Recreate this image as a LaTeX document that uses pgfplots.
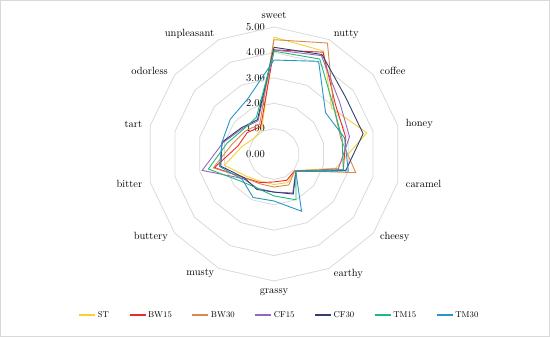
\documentclass[border=0pt]{standalone}
\usepackage{pgfplots}
\pgfplotsset{compat=1.18}
\usepackage{pgfplotstable}
\usepgfplotslibrary{polar}
\definecolor{cST}{RGB}{248,208,52}
\definecolor{cBWa}{RGB}{232,44,44}
\definecolor{cBWb}{RGB}{214,138,78}
\definecolor{cCFa}{RGB}{152,102,190}
\definecolor{cCFb}{RGB}{48,62,112}
\definecolor{cTMa}{RGB}{30,186,122}
\definecolor{cTMb}{RGB}{40,150,196}
\definecolor{ringgray}{RGB}{217,217,217}

\pgfplotstableread{
angle ST BW15 BW30 CF15 CF30 TM15 TM30
90 4.60 4.10 4.50 4.10 4.20 4.05 3.70
115.714 1.10 1.20 1.30 1.45 1.50 1.60 2.40
141.429 1.00 1.35 1.45 1.60 1.65 1.55 2.20
167.143 1.30 1.45 1.70 2.05 2.10 1.90 2.10
192.857 2.00 2.40 2.45 2.90 2.15 2.65 2.20
218.571 1.40 1.50 1.50 1.55 1.50 1.70 1.60
244.286 1.20 1.25 1.30 1.50 1.55 1.50 1.90
270 1.20 1.10 1.30 1.50 1.50 1.65 1.85
295.714 1.25 1.15 1.35 1.70 1.75 2.00 2.50
321.429 1.05 1.05 1.05 1.10 1.10 1.10 1.10
347.143 2.50 2.80 3.30 2.60 2.90 2.80 3.00
372.857 3.75 2.90 2.70 3.05 3.60 2.75 2.85
398.571 2.90 3.10 3.00 3.30 3.60 3.00 2.60
424.286 4.50 4.45 4.85 4.30 4.35 4.15 4.05
450 4.60 4.10 4.50 4.10 4.20 4.05 3.70
}\radardata

\begin{document}
\begin{tikzpicture}
\useasboundingbox (-274bp,-183bp) rectangle (276bp,154bp);
\draw[ringgray, line width=0.8bp] (-273.6bp,-182.6bp) rectangle (275.6bp,153.6bp);
\begin{polaraxis}[
  at={(0bp,0bp)}, anchor=center,
  scale only axis, width=254bp, height=254bp,
  xmin=90, xmax=450, ymin=0, ymax=5,
  xtick={90,115.714,141.429,167.143,192.857,218.571,244.286,270,295.714,321.429,347.143,372.857,398.571,424.286},
  xticklabels={sweet,unpleasant,odorless,tart,bitter,buttery,musty,grassy,earthy,cheesy,caramel,honey,coffee,nutty},
  ytick={0,1,2,3,4,5},
  yticklabels={0.00,1.00,2.00,3.00,4.00,5.00},
  grid=none,
  axis line style={draw=none},
  tick style={draw=none},
  xticklabel style={font=\fontsize{10.5}{12}\selectfont, inner sep=2bp,
    /utils/exec={\pgfmathtruncatemacro\xanch{abs(cos(\tick))<0.01 ? (sin(\tick)>0 ? 270 : 90) : (cos(\tick)>0 ? 180 : 0)}},
    anchor=\xanch, shift={(\tick:6bp)}},
  yticklabel style={font=\fontsize{10.5}{12}\selectfont, anchor=east, inner sep=1bp, xshift=-8bp},
  legend style={at={(axis description cs:0.522,-0.134)}, anchor=center, draw=none,
    font=\fontsize{8.5}{10}\selectfont, legend columns=7,
    /tikz/every even column/.append style={column sep=18bp}},
  legend image code/.code={\draw[#1, line width=1.1bp] (0bp,0bp) -- (16bp,0bp);},
  clip=false,
]
\pgfplotsinvokeforeach{1,2,3,4,5}{
  \addplot[ringgray, line width=0.8bp, forget plot] table[x=angle, y expr=#1] {\radardata};
}
\addplot[cST, line width=0.9bp] table[x=angle, y=ST] {\radardata};
\addplot[cBWa, line width=0.9bp] table[x=angle, y=BW15] {\radardata};
\addplot[cBWb, line width=0.9bp] table[x=angle, y=BW30] {\radardata};
\addplot[cCFa, line width=0.9bp] table[x=angle, y=CF15] {\radardata};
\addplot[cCFb, line width=0.9bp] table[x=angle, y=CF30] {\radardata};
\addplot[cTMa, line width=0.9bp] table[x=angle, y=TM15] {\radardata};
\addplot[cTMb, line width=0.9bp] table[x=angle, y=TM30] {\radardata};
\legend{ST,BW15,BW30,CF15,CF30,TM15,TM30}
\end{polaraxis}
\end{tikzpicture}
\end{document}
